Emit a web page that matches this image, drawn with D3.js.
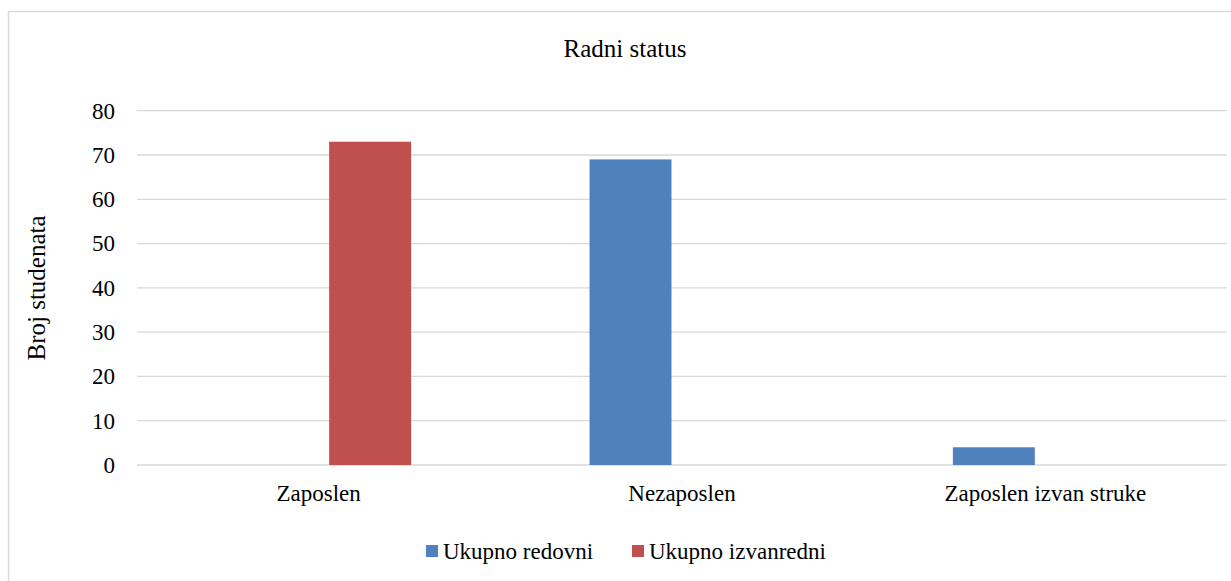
<!DOCTYPE html>
<html lang="hr">
<head>
<meta charset="UTF-8">
<title>Radni status</title>
<script src="https://d3js.org/d3.v7.min.js"></script>
<style>
    body { margin: 0; background: #fff; overflow: hidden; }
    svg { display: block; }
    svg text { font-family: "Liberation Serif", Tinos, "Times New Roman", Times, "DejaVu Serif", serif !important; fill: #000; }
</style>
</head>
<body>
<script>
    // podaci s grafikona
    const categories = ["Zaposlen", "Nezaposlen", "Zaposlen izvan struke"];
    const seriesNames = ["Ukupno redovni", "Ukupno izvanredni"];
    const redovni = [0, 69, 4];
    const izvanredni = [73, 0, 0];
    const yTicks = [0, 10, 20, 30, 40, 50, 60, 70, 80];
    const colors = ["#4F81BD", "#C0504D"];

    const width = 1231, height = 581;
    const plot = { left: 137, right: 1227, top: 110.7, bottom: 465 };

    const svg = d3.select("body").append("svg")
        .attr("width", width)
        .attr("height", height);

    // okvir grafikona
    svg.append("rect")
        .attr("x", 8.5).attr("y", 11.5)
        .attr("width", 1240).attr("height", 600)
        .attr("fill", "none")
        .attr("stroke", "#d9d9d9")
        .attr("stroke-width", 1.5);

    const x0 = d3.scaleBand()
        .domain(categories)
        .range([plot.left, plot.right])
        .paddingInner(0.491)
        .paddingOuter(0.2455);

    const x1 = d3.scaleBand()
        .domain(seriesNames)
        .range([0, x0.bandwidth()])
        .paddingInner(0.204);

    const y = d3.scaleLinear()
        .domain([0, 80])
        .range([plot.bottom, plot.top]);

    // mreza
    svg.append("g")
        .selectAll("line")
        .data(yTicks)
        .enter().append("line")
        .attr("x1", plot.left).attr("x2", plot.right)
        .attr("y1", d => y(d)).attr("y2", d => y(d))
        .attr("stroke", "#d9d9d9")
        .attr("stroke-width", 1.3);

    // y os
    const yAxis = svg.append("g")
        .attr("transform", `translate(${plot.left - 22},0)`)
        .call(d3.axisLeft(y).tickValues(yTicks).tickSize(0).tickPadding(0))
        .attr("font-family", null);
    yAxis.select(".domain").remove();
    yAxis.selectAll("text")
        .style("font-size", "23px");

    // x os
    const xAxis = svg.append("g")
        .attr("transform", `translate(0,${plot.bottom})`)
        .call(d3.axisBottom(x0).tickSize(0).tickPadding(0))
        .attr("font-family", null);
    xAxis.select(".domain").remove();
    xAxis.selectAll("text")
        .attr("dy", null)
        .attr("y", 36)
        .style("font-size", "23px");

    // stupci
    const rows = categories.map((c, i) => ({
        category: c,
        values: [
            { name: seriesNames[0], value: redovni[i] },
            { name: seriesNames[1], value: izvanredni[i] }
        ]
    }));

    svg.append("g")
        .selectAll("g")
        .data(rows)
        .enter().append("g")
        .attr("transform", d => `translate(${x0(d.category)},0)`)
        .selectAll("rect")
        .data(d => d.values.filter(v => v.value > 0))
        .enter().append("rect")
        .attr("x", d => x1(d.name))
        .attr("width", x1.bandwidth())
        .attr("y", d => y(d.value))
        .attr("height", d => y(0) - y(d.value))
        .attr("fill", d => colors[seriesNames.indexOf(d.name)]);

    // naslov
    svg.append("text")
        .attr("x", 625).attr("y", 57)
        .attr("text-anchor", "middle")
        .style("font-size", "25px")
        .text("Radni status");

    // naziv y osi
    svg.append("text")
        .attr("transform", "translate(45,288) rotate(-90)")
        .attr("text-anchor", "middle")
        .style("font-size", "25px")
        .text("Broj studenata");

    // legenda
    const legendX = [426, 632];
    const legend = svg.append("g")
        .selectAll("g")
        .data(seriesNames)
        .enter().append("g")
        .attr("transform", (d, i) => `translate(${legendX[i]},545)`);
    legend.append("rect")
        .attr("width", 12).attr("height", 12)
        .attr("fill", (d, i) => colors[i]);
    legend.append("text")
        .attr("x", 17).attr("y", 14)
        .style("font-size", "23px")
        .text(d => d);
</script>
</body>
</html>
